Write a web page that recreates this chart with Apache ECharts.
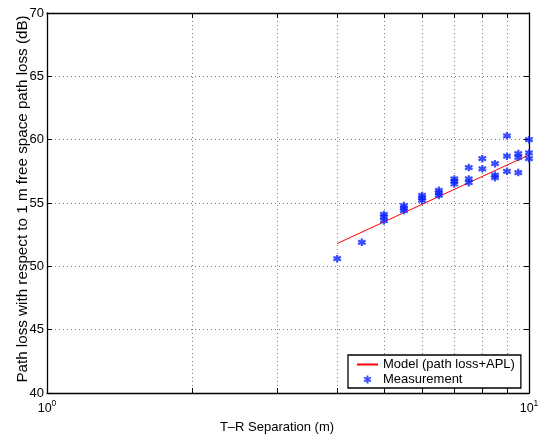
<!DOCTYPE html>
<html>
<head>
<meta charset="utf-8">
<script src="https://cdn.jsdelivr.net/npm/echarts@6/dist/echarts.min.js"></script>
<style>html,body{margin:0;padding:0;background:#fff;}#c{width:539px;height:437px;}</style>
</head>
<body>
<div id="c"></div>
<script>
const xTickValues = [1, 2, 3, 4, 5, 6, 7, 8, 9, 10];
const xLabelValues = [1, 10];
const yTicks = [40, 45, 50, 55, 60, 65, 70];

const modelX = [4, 10];
const modelY = [51.8, 58.8];

const measX = [4, 4.5, 5, 5, 5, 5.5, 5.5, 5.5, 6, 6, 6, 6.5, 6.5, 6.5, 7, 7, 7, 7.5, 7.5, 7.5, 8, 8, 8.5, 8.5, 8.5, 9, 9, 9, 9.5, 9.5, 9.5, 10, 10, 10];
const measY = [50.6, 51.9, 53.6, 53.9, 54.1, 54.4, 54.6, 54.8, 55.2, 55.4, 55.6, 55.6, 55.8, 56.0, 56.5, 56.7, 56.9, 57.8, 56.6, 56.9, 58.5, 57.7, 58.1, 57.0, 57.2, 60.3, 58.7, 57.5, 58.9, 58.6, 57.4, 60.0, 58.95, 58.5];

const FONT = '"Liberation Sans", Arial, Helvetica, sans-serif';
const chart = echarts.init(document.getElementById('c'), null, {renderer: 'canvas'});

const gridDot = {show: true, lineStyle: {color: '#7a7a7a', type: [1, 3], width: 1}};
const axLine = {show: true, onZero: false, lineStyle: {color: '#000', width: 1.3}};

function xAxisCfg(pos, showLabels) {
  return {
    type: 'log', logBase: 10, min: 1, max: 10, position: pos,
    axisLine: axLine,
    axisTick: {show: true, inside: true, length: 5, customValues: xTickValues, lineStyle: {color: '#000'}},
    splitLine: pos === 'bottom' ? gridDot : {show: false},
    minorTick: {show: false}, minorSplitLine: {show: false},
    axisLabel: showLabels ? {
      show: true, customValues: xLabelValues, margin: 6,
      formatter: v => v === 1 ? '{b|10}{s|0}' : '{b|10}{s|1}',
      rich: {
        b: {fontSize: 12.5, fontFamily: FONT, color: '#000', verticalAlign: 'bottom', lineHeight: 16},
        s: {fontSize: 8.5, fontFamily: FONT, color: '#000', verticalAlign: 'top', lineHeight: 16, padding: [0, 0, 6, 0]}
      }
    } : {show: false},
    name: showLabels ? 'T\u2013R Separation (m)' : '',
    nameLocation: 'middle', nameGap: 28,
    nameTextStyle: {fontSize: 13, fontFamily: FONT, color: '#000', padding: [0, 22, 0, 0]}
  };
}
function yAxisCfg(pos, showLabels) {
  return {
    type: 'value', min: 40, max: 70, interval: 5, position: pos,
    axisLine: axLine,
    axisTick: {show: true, inside: true, length: 5, lineStyle: {color: '#000'}},
    splitLine: pos === 'left' ? gridDot : {show: false},
    axisLabel: showLabels ? {show: true, fontSize: 13, fontFamily: FONT, color: '#000', margin: 3} : {show: false},
    name: showLabels ? 'Path loss with respect to 1 m free space path loss (dB)' : '',
    nameLocation: 'middle', nameGap: 17, nameMoveOverlap: false,
    nameTextStyle: {fontSize: 15.2, fontFamily: FONT, color: '#000', padding: [0, 0, 0, 8]}
  };
}

const star = 'path://M0,-6L0,6M-5.2,-3L5.2,3M-5.2,3L5.2,-3';

chart.setOption({
  animation: false,
  backgroundColor: '#fff',
  textStyle: {fontFamily: FONT},
  grid: {left: 47, right: 10, top: 13, bottom: 44, containLabel: false, outerBoundsMode: 'none'},
  xAxis: [xAxisCfg('bottom', true), xAxisCfg('top', false)],
  yAxis: [yAxisCfg('left', true), yAxisCfg('right', false)],
  legend: {
    show: true, orient: 'vertical', left: 348, top: 355,
    backgroundColor: '#fff', borderColor: '#000', borderWidth: 1.3, borderRadius: 0,
    padding: [3, 6, 2, 8], itemGap: 2, itemWidth: 21, itemHeight: 8,
    textStyle: {fontSize: 13, fontFamily: FONT, color: '#000'},
    data: [
      {name: 'Model (path loss+APL)', itemStyle: {opacity: 0, color: 'rgba(0,0,0,0)', borderWidth: 0}},
      {name: 'Measurement'}
    ]
  },
  series: [
    {
      name: 'Model (path loss+APL)', type: 'line', xAxisIndex: 0, yAxisIndex: 0,
      data: modelX.map((x, i) => [x, modelY[i]]),
      symbol: 'none', lineStyle: {color: '#ff0000', width: 1}, itemStyle: {color: '#ff0000'}, z: 3
    },
    {
      name: 'Measurement', type: 'scatter', xAxisIndex: 0, yAxisIndex: 0,
      data: measX.map((x, i) => [x, measY[i]]),
      symbol: star, symbolSize: 7.5,
      itemStyle: {color: 'rgba(0,0,0,0)', borderColor: '#0a22ff', borderWidth: 2.2}, z: 4
    }
  ]
});
</script>
</body>
</html>
